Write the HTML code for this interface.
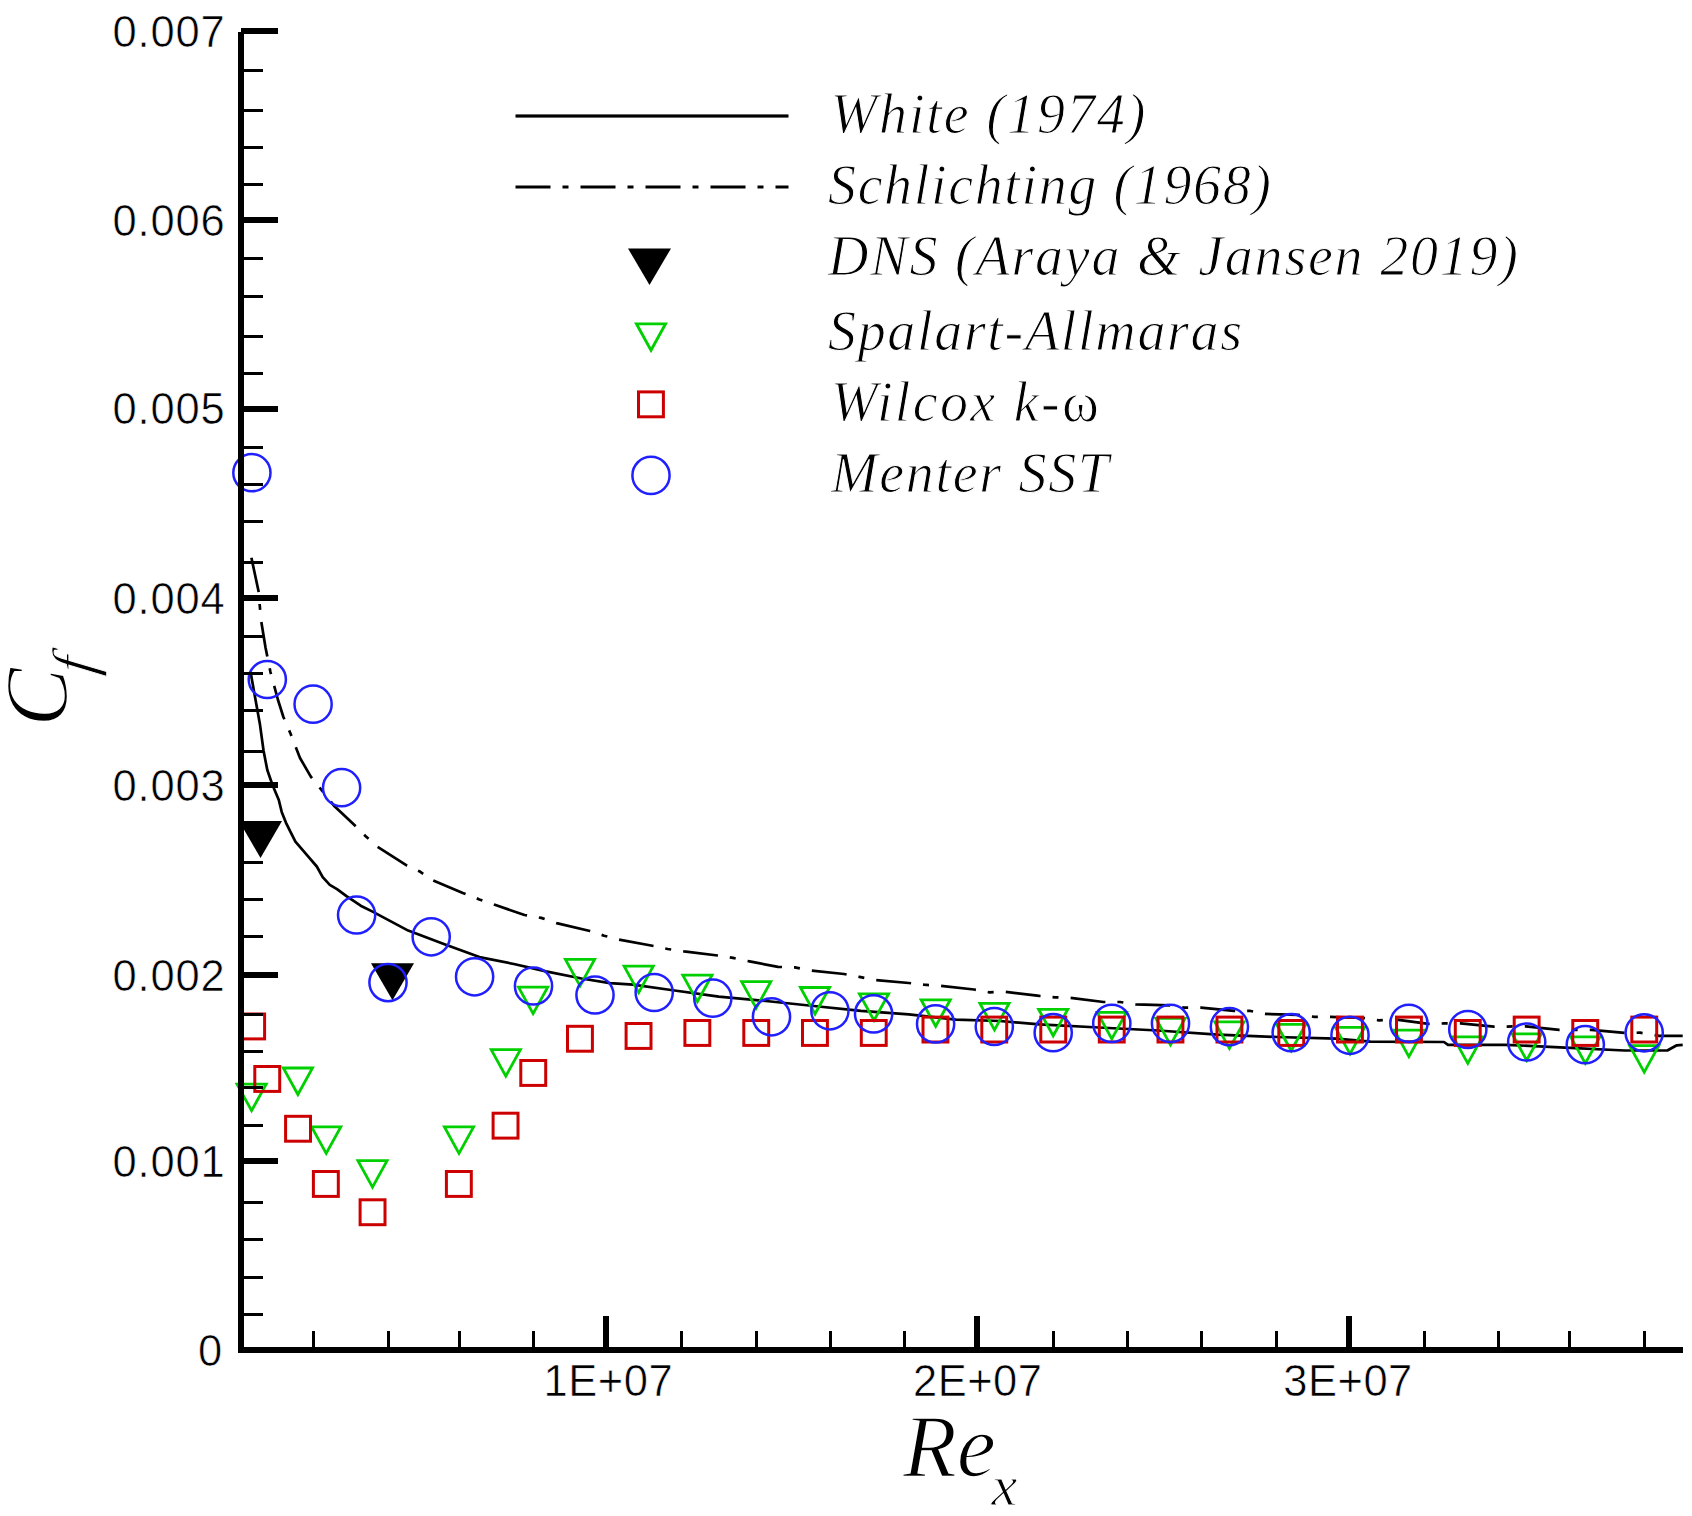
<!DOCTYPE html>
<html lang="en">
<head>
<meta charset="utf-8">
<title>Skin friction coefficient vs Reynolds number</title>
<style>
html,body{margin:0;padding:0;background:#fff;}
body{width:1692px;height:1516px;overflow:hidden;}
svg{display:block;}
text{fill:#000;}
</style>
</head>
<body>
<svg width="1692" height="1516" viewBox="0 0 1692 1516">
<rect x="0" y="0" width="1692" height="1516" fill="#fff"/>
<path d="M250.2 671.5 L251.0 674.5 L254.8 695.8 L259.8 723.4 L263.6 751.0 L267.3 770.0 L272.5 785.0 L278.8 800.0 L281.7 811.9 L285.9 822.6 L290.6 832.1 L295.4 841.6 L302.5 849.9 L309.6 858.2 L316.8 866.5 L322.7 877.2 L329.8 884.9 L337.0 889.1 L346.5 896.2 L360.7 905.7 L372.6 911.6 L390.4 921.1 L408.2 930.6 L426.0 937.2 L443.8 944.0 L479.4 957.1 L515.0 964.2 L545.9 971.4 L581.5 978.5 L610.0 983.2 L633.0 984.7 L671.0 990.0 L718.8 996.6 L766.0 1001.0 L813.8 1006.0 L861.0 1010.8 L908.8 1014.4 L956.0 1019.6 L1000.0 1021.0 L1039.4 1024.4 L1098.8 1027.5 L1158.0 1030.5 L1217.5 1034.6 L1277.0 1037.0 L1336.0 1038.6 L1370.4 1041.7 L1444.0 1042.0 L1448.0 1044.8 L1505.8 1044.8 L1565.0 1047.6 L1624.5 1050.5 L1667.3 1050.5 L1676.8 1045.3 L1682.7 1044.8" fill="none" stroke="#000" stroke-width="2.7" stroke-linejoin="round"/>
<path d="M251.4 557.8 L258.5 591.0 L261.0 620.0 L265.6 648.0 L270.4 671.8 L278.0 700.0 L283.4 717.0 L290.6 733.8 L300.0 758.0 L310.8 776.6 L320.3 788.5 L334.5 806.3 L354.7 825.3 L365.4 836.0 L377.3 846.7 L407.0 865.7 L420.0 871.6 L433.0 880.4 L462.8 893.0 L479.4 899.4 L494.8 904.8 L524.5 915.0 L541.2 917.9 L556.6 923.1 L589.9 931.0 L604.1 935.7 L619.0 939.6 L651.0 945.5 L667.7 949.0 L684.0 951.4 L717.6 955.5 L733.0 957.9 L749.6 961.4 L778.0 966.9 L794.8 967.4 L811.0 970.5 L844.0 974.0 L859.4 976.9 L875.5 980.0 L908.8 983.0 L924.0 984.7 L940.9 985.9 L974.0 989.5 L989.5 992.3 L1005.0 991.8 L1039.4 995.9 L1054.8 997.3 L1070.3 997.8 L1103.5 1002.0 L1120.0 1002.0 L1135.6 1004.4 L1170.0 1005.4 L1184.3 1007.7 L1201.0 1007.7 L1234.0 1010.8 L1249.6 1010.8 L1265.0 1013.9 L1298.3 1014.9 L1314.4 1016.8 L1330.4 1016.8 L1363.6 1018.0 L1379.0 1020.3 L1396.5 1019.6 L1428.6 1023.9 L1444.0 1023.4 L1460.6 1023.4 L1493.9 1026.7 L1526.0 1026.3 L1559.2 1029.8 L1591.3 1029.8 L1624.5 1032.9 L1640.0 1032.7 L1659.0 1035.8 L1682.7 1035.8" fill="none" stroke="#000" stroke-width="2.7" stroke-linejoin="round" stroke-dasharray="35 12 6 12.15" stroke-dashoffset="0"/>
<polygon points="239.0,821.0 282.0,821.0 260.5,858.0" fill="#000"/>
<polygon points="371.0,963.3 414.0,963.3 392.5,1000.3" fill="#000"/>
<polygon points="237.0,1084.1 266.2,1084.1 251.6,1110.6" fill="none" stroke="#00d000" stroke-width="2.8" stroke-linejoin="miter" stroke-miterlimit="10"/>
<polygon points="283.3,1068.0 312.5,1068.0 297.9,1094.5" fill="none" stroke="#00d000" stroke-width="2.8" stroke-linejoin="miter" stroke-miterlimit="10"/>
<polygon points="311.6,1126.9 340.8,1126.9 326.2,1153.4" fill="none" stroke="#00d000" stroke-width="2.8" stroke-linejoin="miter" stroke-miterlimit="10"/>
<polygon points="357.9,1160.6 387.1,1160.6 372.5,1187.1" fill="none" stroke="#00d000" stroke-width="2.8" stroke-linejoin="miter" stroke-miterlimit="10"/>
<polygon points="444.4,1126.9 473.6,1126.9 459.0,1153.4" fill="none" stroke="#00d000" stroke-width="2.8" stroke-linejoin="miter" stroke-miterlimit="10"/>
<polygon points="491.2,1049.6 520.4,1049.6 505.8,1076.1" fill="none" stroke="#00d000" stroke-width="2.8" stroke-linejoin="miter" stroke-miterlimit="10"/>
<polygon points="518.5,987.2 547.7,987.2 533.1,1013.7" fill="none" stroke="#00d000" stroke-width="2.8" stroke-linejoin="miter" stroke-miterlimit="10"/>
<polygon points="565.4,959.4 594.6,959.4 580.0,985.9" fill="none" stroke="#00d000" stroke-width="2.8" stroke-linejoin="miter" stroke-miterlimit="10"/>
<polygon points="624.1,966.1 653.3,966.1 638.7,992.6" fill="none" stroke="#00d000" stroke-width="2.8" stroke-linejoin="miter" stroke-miterlimit="10"/>
<polygon points="682.8,975.1 712.0,975.1 697.4,1001.6" fill="none" stroke="#00d000" stroke-width="2.8" stroke-linejoin="miter" stroke-miterlimit="10"/>
<polygon points="741.6,981.6 770.8,981.6 756.2,1008.1" fill="none" stroke="#00d000" stroke-width="2.8" stroke-linejoin="miter" stroke-miterlimit="10"/>
<polygon points="800.4,987.5 829.6,987.5 815.0,1014.0" fill="none" stroke="#00d000" stroke-width="2.8" stroke-linejoin="miter" stroke-miterlimit="10"/>
<polygon points="859.4,993.9 888.6,993.9 874.0,1020.4" fill="none" stroke="#00d000" stroke-width="2.8" stroke-linejoin="miter" stroke-miterlimit="10"/>
<polygon points="921.1,999.8 950.3,999.8 935.7,1026.3" fill="none" stroke="#00d000" stroke-width="2.8" stroke-linejoin="miter" stroke-miterlimit="10"/>
<polygon points="979.9,1003.4 1009.1,1003.4 994.5,1029.9" fill="none" stroke="#00d000" stroke-width="2.8" stroke-linejoin="miter" stroke-miterlimit="10"/>
<polygon points="1038.6,1009.3 1067.8,1009.3 1053.2,1035.8" fill="none" stroke="#00d000" stroke-width="2.8" stroke-linejoin="miter" stroke-miterlimit="10"/>
<polygon points="1097.2,1012.4 1126.4,1012.4 1111.8,1038.9" fill="none" stroke="#00d000" stroke-width="2.8" stroke-linejoin="miter" stroke-miterlimit="10"/>
<polygon points="1155.9,1018.4 1185.1,1018.4 1170.5,1044.9" fill="none" stroke="#00d000" stroke-width="2.8" stroke-linejoin="miter" stroke-miterlimit="10"/>
<polygon points="1214.8,1021.9 1244.0,1021.9 1229.4,1048.4" fill="none" stroke="#00d000" stroke-width="2.8" stroke-linejoin="miter" stroke-miterlimit="10"/>
<polygon points="1276.6,1024.3 1305.8,1024.3 1291.2,1050.8" fill="none" stroke="#00d000" stroke-width="2.8" stroke-linejoin="miter" stroke-miterlimit="10"/>
<polygon points="1335.4,1027.4 1364.6,1027.4 1350.0,1053.9" fill="none" stroke="#00d000" stroke-width="2.8" stroke-linejoin="miter" stroke-miterlimit="10"/>
<polygon points="1394.3,1030.2 1423.5,1030.2 1408.9,1056.7" fill="none" stroke="#00d000" stroke-width="2.8" stroke-linejoin="miter" stroke-miterlimit="10"/>
<polygon points="1453.2,1036.9 1482.4,1036.9 1467.8,1063.4" fill="none" stroke="#00d000" stroke-width="2.8" stroke-linejoin="miter" stroke-miterlimit="10"/>
<polygon points="1512.1,1033.8 1541.3,1033.8 1526.7,1060.3" fill="none" stroke="#00d000" stroke-width="2.8" stroke-linejoin="miter" stroke-miterlimit="10"/>
<polygon points="1570.7,1036.9 1599.9,1036.9 1585.3,1063.4" fill="none" stroke="#00d000" stroke-width="2.8" stroke-linejoin="miter" stroke-miterlimit="10"/>
<polygon points="1629.6,1045.6 1658.8,1045.6 1644.2,1072.1" fill="none" stroke="#00d000" stroke-width="2.8" stroke-linejoin="miter" stroke-miterlimit="10"/>
<rect x="239.7" y="1014.0" width="24.9" height="24.9" fill="none" stroke="#cc0000" stroke-width="3"/>
<rect x="254.8" y="1066.5" width="24.9" height="24.9" fill="none" stroke="#cc0000" stroke-width="3"/>
<rect x="285.6" y="1116.3" width="24.9" height="24.9" fill="none" stroke="#cc0000" stroke-width="3"/>
<rect x="313.4" y="1171.5" width="24.9" height="24.9" fill="none" stroke="#cc0000" stroke-width="3"/>
<rect x="360.1" y="1199.8" width="24.9" height="24.9" fill="none" stroke="#cc0000" stroke-width="3"/>
<rect x="446.4" y="1171.5" width="24.9" height="24.9" fill="none" stroke="#cc0000" stroke-width="3"/>
<rect x="493.1" y="1113.2" width="24.9" height="24.9" fill="none" stroke="#cc0000" stroke-width="3"/>
<rect x="520.8" y="1060.5" width="24.9" height="24.9" fill="none" stroke="#cc0000" stroke-width="3"/>
<rect x="567.5" y="1026.3" width="24.9" height="24.9" fill="none" stroke="#cc0000" stroke-width="3"/>
<rect x="626.1" y="1023.5" width="24.9" height="24.9" fill="none" stroke="#cc0000" stroke-width="3"/>
<rect x="684.9" y="1020.5" width="24.9" height="24.9" fill="none" stroke="#cc0000" stroke-width="3"/>
<rect x="743.8" y="1020.5" width="24.9" height="24.9" fill="none" stroke="#cc0000" stroke-width="3"/>
<rect x="802.5" y="1020.5" width="24.9" height="24.9" fill="none" stroke="#cc0000" stroke-width="3"/>
<rect x="861.3" y="1020.5" width="24.9" height="24.9" fill="none" stroke="#cc0000" stroke-width="3"/>
<rect x="923.0" y="1017.1" width="24.9" height="24.9" fill="none" stroke="#cc0000" stroke-width="3"/>
<rect x="981.8" y="1017.1" width="24.9" height="24.9" fill="none" stroke="#cc0000" stroke-width="3"/>
<rect x="1040.8" y="1017.1" width="24.9" height="24.9" fill="none" stroke="#cc0000" stroke-width="3"/>
<rect x="1099.3" y="1017.1" width="24.9" height="24.9" fill="none" stroke="#cc0000" stroke-width="3"/>
<rect x="1158.0" y="1017.1" width="24.9" height="24.9" fill="none" stroke="#cc0000" stroke-width="3"/>
<rect x="1217.0" y="1017.1" width="24.9" height="24.9" fill="none" stroke="#cc0000" stroke-width="3"/>
<rect x="1278.8" y="1020.5" width="24.9" height="24.9" fill="none" stroke="#cc0000" stroke-width="3"/>
<rect x="1337.5" y="1017.1" width="24.9" height="24.9" fill="none" stroke="#cc0000" stroke-width="3"/>
<rect x="1396.5" y="1017.1" width="24.9" height="24.9" fill="none" stroke="#cc0000" stroke-width="3"/>
<rect x="1455.3" y="1020.5" width="24.9" height="24.9" fill="none" stroke="#cc0000" stroke-width="3"/>
<rect x="1514.2" y="1017.1" width="24.9" height="24.9" fill="none" stroke="#cc0000" stroke-width="3"/>
<rect x="1572.8" y="1020.5" width="24.9" height="24.9" fill="none" stroke="#cc0000" stroke-width="3"/>
<rect x="1631.8" y="1017.1" width="24.9" height="24.9" fill="none" stroke="#cc0000" stroke-width="3"/>
<circle cx="251.9" cy="472.7" r="18.6" fill="none" stroke="#2020ff" stroke-width="2.5"/>
<circle cx="267.3" cy="679.5" r="18.6" fill="none" stroke="#2020ff" stroke-width="2.5"/>
<circle cx="313.1" cy="704.2" r="18.6" fill="none" stroke="#2020ff" stroke-width="2.5"/>
<circle cx="341.6" cy="787.7" r="18.6" fill="none" stroke="#2020ff" stroke-width="2.5"/>
<circle cx="356.6" cy="915.0" r="18.6" fill="none" stroke="#2020ff" stroke-width="2.5"/>
<circle cx="431.2" cy="936.8" r="18.6" fill="none" stroke="#2020ff" stroke-width="2.5"/>
<circle cx="388.0" cy="982.6" r="18.6" fill="none" stroke="#2020ff" stroke-width="2.5"/>
<circle cx="474.6" cy="976.8" r="18.6" fill="none" stroke="#2020ff" stroke-width="2.5"/>
<circle cx="533.5" cy="986.0" r="18.6" fill="none" stroke="#2020ff" stroke-width="2.5"/>
<circle cx="595.0" cy="995.0" r="18.6" fill="none" stroke="#2020ff" stroke-width="2.5"/>
<circle cx="654.2" cy="992.5" r="18.6" fill="none" stroke="#2020ff" stroke-width="2.5"/>
<circle cx="712.8" cy="998.2" r="18.6" fill="none" stroke="#2020ff" stroke-width="2.5"/>
<circle cx="771.5" cy="1016.8" r="18.6" fill="none" stroke="#2020ff" stroke-width="2.5"/>
<circle cx="829.9" cy="1010.8" r="18.6" fill="none" stroke="#2020ff" stroke-width="2.5"/>
<circle cx="873.6" cy="1013.9" r="18.6" fill="none" stroke="#2020ff" stroke-width="2.5"/>
<circle cx="935.6" cy="1023.9" r="18.6" fill="none" stroke="#2020ff" stroke-width="2.5"/>
<circle cx="994.3" cy="1026.5" r="18.6" fill="none" stroke="#2020ff" stroke-width="2.5"/>
<circle cx="1053.2" cy="1032.7" r="18.6" fill="none" stroke="#2020ff" stroke-width="2.5"/>
<circle cx="1111.8" cy="1023.4" r="18.6" fill="none" stroke="#2020ff" stroke-width="2.5"/>
<circle cx="1170.5" cy="1023.4" r="18.6" fill="none" stroke="#2020ff" stroke-width="2.5"/>
<circle cx="1229.4" cy="1026.7" r="18.6" fill="none" stroke="#2020ff" stroke-width="2.5"/>
<circle cx="1291.2" cy="1032.7" r="18.6" fill="none" stroke="#2020ff" stroke-width="2.5"/>
<circle cx="1350.0" cy="1035.3" r="18.6" fill="none" stroke="#2020ff" stroke-width="2.5"/>
<circle cx="1408.9" cy="1023.3" r="18.6" fill="none" stroke="#2020ff" stroke-width="2.5"/>
<circle cx="1467.8" cy="1029.5" r="18.6" fill="none" stroke="#2020ff" stroke-width="2.5"/>
<circle cx="1526.7" cy="1042.0" r="18.6" fill="none" stroke="#2020ff" stroke-width="2.5"/>
<circle cx="1585.3" cy="1044.7" r="18.6" fill="none" stroke="#2020ff" stroke-width="2.5"/>
<circle cx="1644.2" cy="1032.8" r="18.6" fill="none" stroke="#2020ff" stroke-width="2.5"/>
<g fill="#000" stroke="none" shape-rendering="crispEdges">
<rect x="238" y="31.5" width="6" height="1321.5"/>
<rect x="238" y="1347" width="1445" height="6"/>
<rect x="241" y="28.3" width="37" height="6"/>
<rect x="241" y="217.0" width="37" height="6"/>
<rect x="241" y="405.8" width="37" height="6"/>
<rect x="241" y="595.1" width="37" height="6"/>
<rect x="241" y="782.1" width="37" height="6"/>
<rect x="241" y="972.1" width="37" height="6"/>
<rect x="241" y="1157.9" width="37" height="6"/>
<rect x="241" y="68.6" width="21.7" height="3"/>
<rect x="241" y="108.7" width="21.7" height="3"/>
<rect x="241" y="145.8" width="21.7" height="3"/>
<rect x="241" y="183.2" width="21.7" height="3"/>
<rect x="241" y="257.2" width="21.7" height="3"/>
<rect x="241" y="294.5" width="21.7" height="3"/>
<rect x="241" y="334.9" width="21.7" height="3"/>
<rect x="241" y="372.0" width="21.7" height="3"/>
<rect x="241" y="446.2" width="21.7" height="3"/>
<rect x="241" y="483.3" width="21.7" height="3"/>
<rect x="241" y="520.1" width="21.7" height="3"/>
<rect x="241" y="560.7" width="21.7" height="3"/>
<rect x="241" y="635.4" width="21.7" height="3"/>
<rect x="241" y="672.3" width="21.7" height="3"/>
<rect x="241" y="709.4" width="21.7" height="3"/>
<rect x="241" y="749.5" width="21.7" height="3"/>
<rect x="241" y="821.7" width="21.7" height="3"/>
<rect x="241" y="860.8" width="21.7" height="3"/>
<rect x="241" y="897.6" width="21.7" height="3"/>
<rect x="241" y="935.2" width="21.7" height="3"/>
<rect x="241" y="1012.5" width="21.7" height="3"/>
<rect x="241" y="1049.8" width="21.7" height="3"/>
<rect x="241" y="1086.4" width="21.7" height="3"/>
<rect x="241" y="1123.8" width="21.7" height="3"/>
<rect x="241" y="1201.3" width="21.7" height="3"/>
<rect x="241" y="1238.4" width="21.7" height="3"/>
<rect x="241" y="1275.7" width="21.7" height="3"/>
<rect x="241" y="1312.8" width="21.7" height="3"/>
<rect x="603.1" y="1315.7" width="6" height="32"/>
<rect x="974.3" y="1315.7" width="6" height="32"/>
<rect x="1345.8" y="1315.7" width="6" height="32"/>
<rect x="312.0" y="1331.4" width="3" height="17"/>
<rect x="386.5" y="1331.4" width="3" height="17"/>
<rect x="457.5" y="1331.4" width="3" height="17"/>
<rect x="531.6" y="1331.4" width="3" height="17"/>
<rect x="680.3" y="1331.4" width="3" height="17"/>
<rect x="754.6" y="1331.4" width="3" height="17"/>
<rect x="828.7" y="1331.4" width="3" height="17"/>
<rect x="903.3" y="1331.4" width="3" height="17"/>
<rect x="1051.7" y="1331.4" width="3" height="17"/>
<rect x="1125.9" y="1331.4" width="3" height="17"/>
<rect x="1200.0" y="1331.4" width="3" height="17"/>
<rect x="1274.5" y="1331.4" width="3" height="17"/>
<rect x="1422.8" y="1331.4" width="3" height="17"/>
<rect x="1497.4" y="1331.4" width="3" height="17"/>
<rect x="1568.3" y="1331.4" width="3" height="17"/>
<rect x="1642.9" y="1331.4" width="3" height="17"/>
</g>
<rect x="515.5" y="114.4" width="273" height="3.2" fill="#000"/>
<path d="M515.5 187 L788.5 187" fill="none" stroke="#000" stroke-width="3.2" stroke-dasharray="35 12 6 12"/>
<polygon points="628,248.4 671,248.4 649.5,285" fill="#000"/>
<polygon points="636.4,323.8 665.6,323.8 651.0,350.3" fill="none" stroke="#00d000" stroke-width="2.8" stroke-linejoin="miter" stroke-miterlimit="10"/>
<rect x="638.5" y="391.9" width="24.9" height="24.9" fill="none" stroke="#cc0000" stroke-width="3"/>
<circle cx="651.0" cy="475.4" r="18.6" fill="none" stroke="#2020ff" stroke-width="2.5"/>
<text x="830.4" y="133.4" style="font-family:'Liberation Serif','Times New Roman',serif;font-style:italic;stroke:#fff;stroke-width:1px;font-size:56px" textLength="315.0" lengthAdjust="spacing">White (1974)</text>
<text x="828" y="204.3" style="font-family:'Liberation Serif','Times New Roman',serif;font-style:italic;stroke:#fff;stroke-width:1px;font-size:56px" textLength="443.0" lengthAdjust="spacing">Schlichting (1968)</text>
<text x="828" y="275" style="font-family:'Liberation Serif','Times New Roman',serif;font-style:italic;stroke:#fff;stroke-width:1px;font-size:56px" textLength="690.0" lengthAdjust="spacing">DNS (Araya &amp; Jansen 2019)</text>
<text x="828" y="350" style="font-family:'Liberation Serif','Times New Roman',serif;font-style:italic;stroke:#fff;stroke-width:1px;font-size:56px" textLength="414.0" lengthAdjust="spacing">Spalart-Allmaras</text>
<text x="831" y="421" style="font-family:'Liberation Serif','Times New Roman',serif;font-style:italic;stroke:#fff;stroke-width:1px;font-size:56px" textLength="267.9" lengthAdjust="spacing">Wilcox k-<tspan style="font-style:normal">ω</tspan></text>
<text x="831" y="492" style="font-family:'Liberation Serif','Times New Roman',serif;font-style:italic;stroke:#fff;stroke-width:1px;font-size:56px" textLength="278.0" lengthAdjust="spacing">Menter SST</text>
<text x="112.4" y="46.9" textLength="112.4" lengthAdjust="spacing" style="font-family:'Liberation Sans',Arial,sans-serif;stroke:#fff;stroke-width:0.6px;font-size:43.5px">0.007</text>
<text x="112.4" y="235.6" textLength="112.4" lengthAdjust="spacing" style="font-family:'Liberation Sans',Arial,sans-serif;stroke:#fff;stroke-width:0.6px;font-size:43.5px">0.006</text>
<text x="112.4" y="424.4" textLength="112.4" lengthAdjust="spacing" style="font-family:'Liberation Sans',Arial,sans-serif;stroke:#fff;stroke-width:0.6px;font-size:43.5px">0.005</text>
<text x="112.4" y="613.7" textLength="112.4" lengthAdjust="spacing" style="font-family:'Liberation Sans',Arial,sans-serif;stroke:#fff;stroke-width:0.6px;font-size:43.5px">0.004</text>
<text x="112.4" y="800.7" textLength="112.4" lengthAdjust="spacing" style="font-family:'Liberation Sans',Arial,sans-serif;stroke:#fff;stroke-width:0.6px;font-size:43.5px">0.003</text>
<text x="112.4" y="990.7" textLength="112.4" lengthAdjust="spacing" style="font-family:'Liberation Sans',Arial,sans-serif;stroke:#fff;stroke-width:0.6px;font-size:43.5px">0.002</text>
<text x="112.4" y="1176.5" textLength="112.4" lengthAdjust="spacing" style="font-family:'Liberation Sans',Arial,sans-serif;stroke:#fff;stroke-width:0.6px;font-size:43.5px">0.001</text>
<text x="222.3" y="1365.6" text-anchor="end" style="font-family:'Liberation Sans',Arial,sans-serif;stroke:#fff;stroke-width:0.6px;font-size:43.5px">0</text>
<text x="543.6" y="1395.8" textLength="129" lengthAdjust="spacing" style="font-family:'Liberation Sans',Arial,sans-serif;stroke:#fff;stroke-width:0.6px;font-size:43.5px">1E+07</text>
<text x="913.0" y="1395.8" textLength="129" lengthAdjust="spacing" style="font-family:'Liberation Sans',Arial,sans-serif;stroke:#fff;stroke-width:0.6px;font-size:43.5px">2E+07</text>
<text x="1283.3" y="1395.8" textLength="129" lengthAdjust="spacing" style="font-family:'Liberation Sans',Arial,sans-serif;stroke:#fff;stroke-width:0.6px;font-size:43.5px">3E+07</text>
<text x="903" y="1476.3" style="font-family:'Liberation Serif','Times New Roman',serif;font-style:italic;stroke:#fff;stroke-width:1.5px;font-size:88px">Re</text>
<text x="991.5" y="1504.7" style="font-family:'Liberation Serif','Times New Roman',serif;font-style:italic;stroke:#fff;stroke-width:1px;font-size:58px">x</text>
<g transform="translate(66,726.5) rotate(-90)"><text x="0" y="0" style="font-family:'Liberation Serif','Times New Roman',serif;font-style:italic;stroke:#fff;stroke-width:1.5px;font-size:88px">C</text><g transform="translate(51,28) skewX(-7)"><text x="0" y="0" style="font-family:'Liberation Serif','Times New Roman',serif;font-style:italic;stroke:#fff;stroke-width:1px;font-size:60px">f</text></g></g>
</svg>
</body>
</html>
